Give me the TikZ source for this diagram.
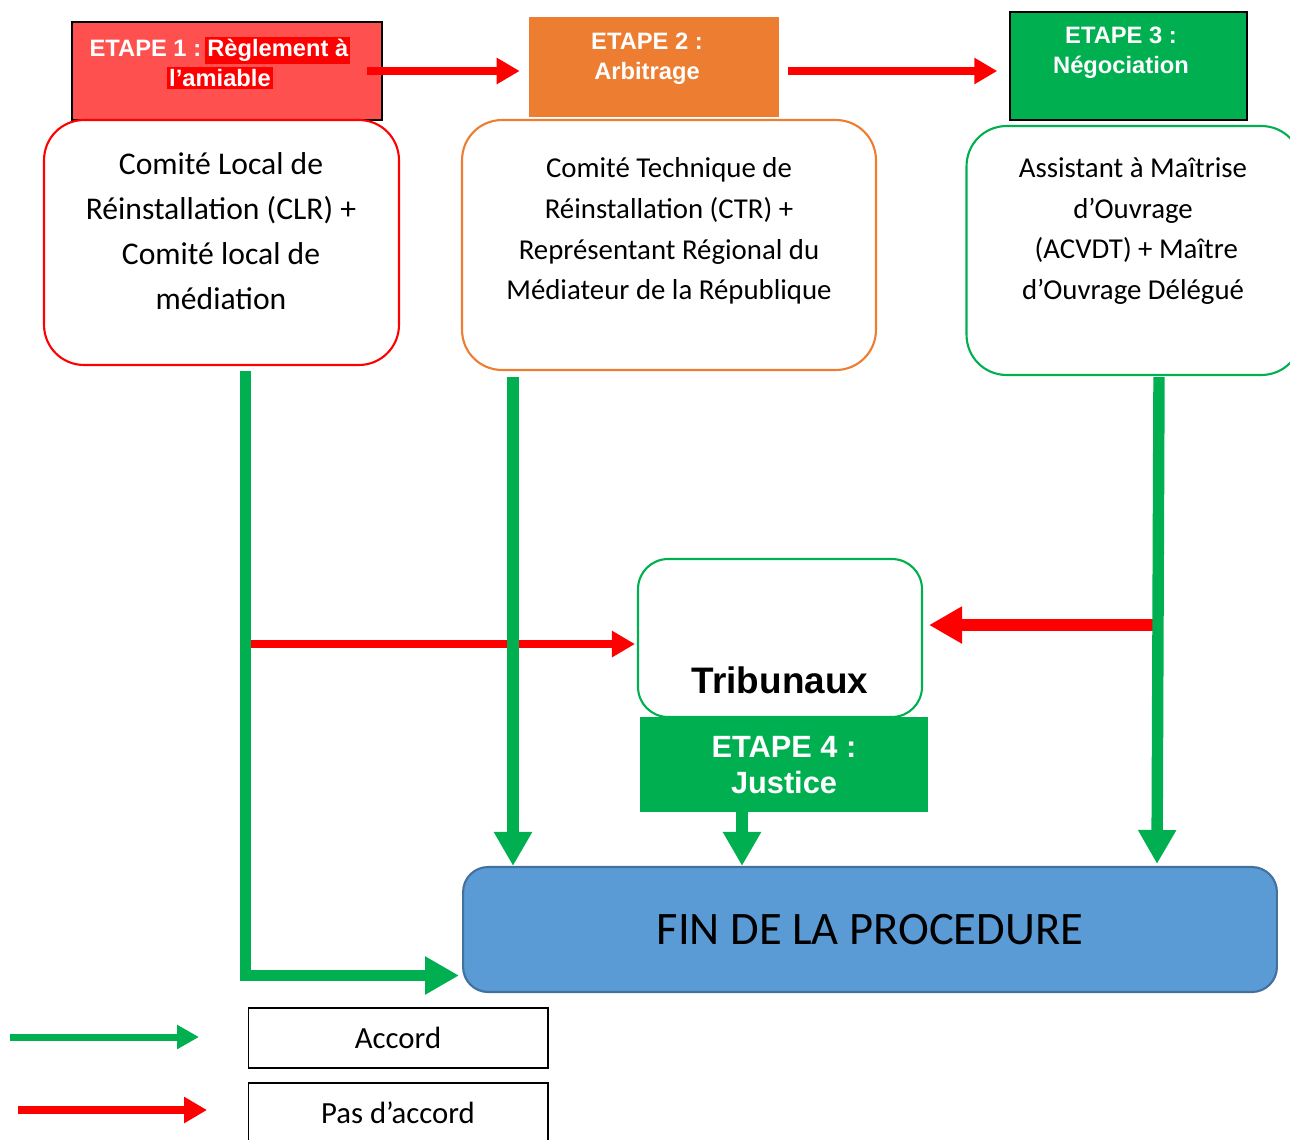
\documentclass[tikz,border=0pt]{standalone}
\usepackage{fontspec}
\setmainfont{Carlito}
\newfontfamily\headfont{Liberation Sans}
\usepackage{tikz}
\usetikzlibrary{positioning,arrows.meta,calc}

\definecolor{stepred}{HTML}{FF5050}
\definecolor{stepgreen}{HTML}{00B050}
\definecolor{steporange}{HTML}{ED7D31}
\definecolor{finblue}{HTML}{5B9BD5}
\definecolor{finedge}{HTML}{41719C}

\newcommand{\redmark}[1]{{\setlength{\fboxsep}{1.2pt}\colorbox{red}{#1}}}

\tikzset{
  headbox/.style={rectangle, inner sep=0pt},
  headtxt/.style={text=white, align=center, font=\headfont\bfseries\fontsize{13.5}{17}\selectfont},
  bodybox/.style={rectangle, rounded corners=0.8cm, fill=white, line width=1.2pt, inner sep=0pt},
  bodytxt/.style={align=center, font=\fontsize{16.4}{23.2}\selectfont},
  legbox/.style={draw=black, line width=0.6pt, minimum width=6cm, minimum height=1.2cm, font=\fontsize{17.5}{21}\selectfont},
  yes/.style={draw=stepgreen, line width=6.5pt, -{Triangle[length=0.68cm, width=0.72cm]}},
  nope/.style={draw=red, line width=4.5pt, -{Triangle[length=0.46cm, width=0.5cm]}},
}

\begin{document}
\begin{tikzpicture}[x=0.02cm, y=-0.02cm]
\useasboundingbox (0,0) rectangle (1290,1139);

% les trois etapes
\node[headbox, fill=stepred, draw=black, line width=0.9pt, minimum width=6.2cm, minimum height=1.96cm] (h1) at (227,71) {};
\node[headbox, fill=steporange, minimum width=5cm, minimum height=2cm] (h2) at (654,67) {};
\node[headbox, fill=stepgreen, draw=black, line width=0.9pt, minimum width=4.74cm, minimum height=2.16cm] (h3) at (1128.5,66) {};
\node[headtxt] (h1t) at (220,63) {ETAPE 1 :\,\redmark{Règlement à}\\\redmark{l’amiable}};
\node[headtxt] (h2t) at (647,59) {ETAPE 2 :\\Arbitrage};
\node[headtxt] (h3t) at (1121,53) {ETAPE 3 :\\Négociation};

\node[bodybox, draw=red, minimum width=7.1cm, minimum height=4.9cm] (box1) at (221.5,242.5) {};
\node[bodybox, draw=steporange, minimum width=8.28cm, minimum height=5cm] (box2) at (669,245) {};
\node[bodybox, draw=stepgreen, minimum width=6.7cm, minimum height=4.98cm] (box3) at (1134,250.5) {};
\node[bodytxt, font=\fontsize{18}{25.5}\selectfont] (box1t) at (221,231) {Comité Local de\\Réinstallation (CLR) +\\Comité local de\\médiation};
\node[bodytxt] (box2t) at (669,231) {Comité Technique de\\Réinstallation (CTR) +\\Représentant Régional du\\Médiateur de la République};
\node[bodytxt] (box3t) at (1133,231) {Assistant à Maîtrise\\d’Ouvrage\\\ (ACVDT) + Maître\\d’Ouvrage Délégué};

% justice
\node[bodybox, draw=stepgreen, rounded corners=0.6cm, minimum width=5.68cm, minimum height=3.16cm] (trib) at (780,638) {};
\node[font=\headfont\bfseries\fontsize{21}{24}\selectfont] (tribt) at (780,680) {Tribunaux};
\node[headbox, fill=stepgreen, minimum width=5.76cm, minimum height=1.9cm] (e4) at (784,764.5) {};
\node[headtxt, font=\headfont\bfseries\fontsize{17.5}{20.5}\selectfont] (e4t) at (784,765) {ETAPE 4 :\\Justice};

\node[rectangle, rounded corners=0.5cm, fill=finblue, draw=finedge, line width=1.2pt, minimum width=16.28cm, minimum height=2.5cm, font=\fontsize{26.5}{30}\selectfont] (fin) at (870,929.5) {FIN DE LA PROCEDURE};

% legende
\node[legbox] (leg1) at (398,1038) {Accord};
\node[legbox] (leg2) at (398,1113) {Pas d’accord};
\coordinate (g0) at (10,1037);
\coordinate (g1) at (199,1037);
\coordinate (r0) at (18,1110);
\coordinate (r1) at (207,1110);
\draw[yes, line width=4pt, -{Triangle[length=0.44cm, width=0.46cm]}] (g0) -- (g1);
\draw[nope] (r0) -- (r1);

% pas d'accord
\draw[nope] ($(h1.east)+(-16,0)$) -- ($(h2.west)+(-9,4)$);
\draw[nope] ($(h2.east)+(9,4)$) -- ($(h3.west)+(-12,5)$);
\draw[nope] ($(box1.south)+(28,278)$) coordinate (p1) -- ($(p1 -| trib.west)+(-2,0)$);
\draw[nope, line width=6.5pt, -{Triangle[length=0.66cm, width=0.7cm]}] ($(box3.south)+(20,249)$) coordinate (p3) -- ($(p3 -| trib.east)+(6,0)$);

% accord
\draw[yes] ($(box1.south)+(24,5)$) |- ($(fin.west)+(-3,46)$);
\draw[yes] ($(box2.south)+(-156,6)$) coordinate (b2) -- (b2 |- fin.north);
\draw[yes] ($(e4.south)+(-42,0)$) coordinate (b4) -- (b4 |- fin.north);
\draw[yes] ($(box3.south)+(25,1)$) -- ($(fin.north)+(287,-2)$);
\end{tikzpicture}
\end{document}
